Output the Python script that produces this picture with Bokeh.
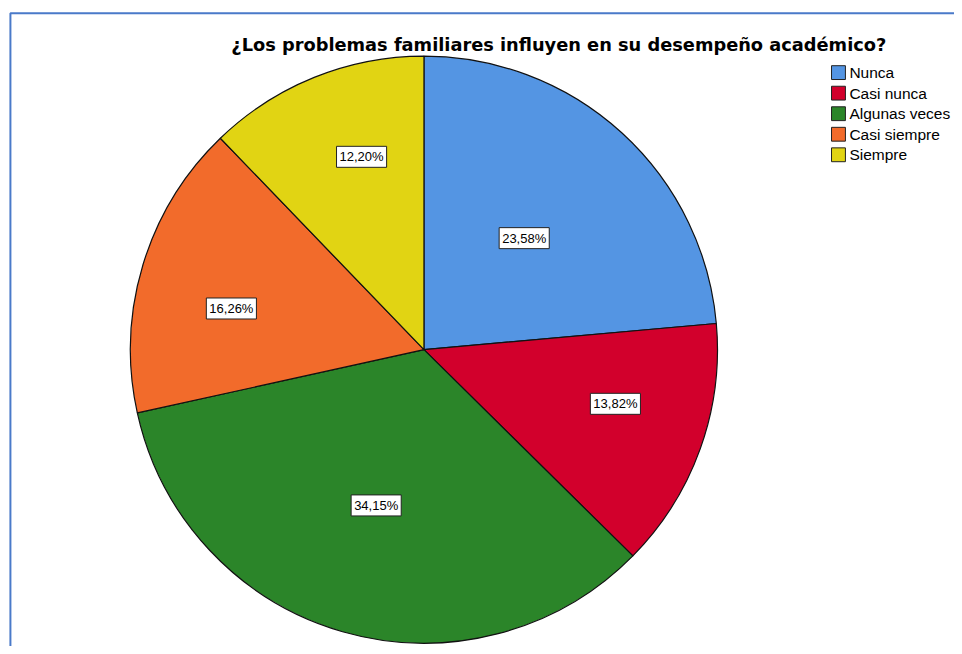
import math
from bokeh.plotting import figure
from bokeh.models import ColumnDataSource, Range1d
from bokeh.core.properties import value
from bokeh.embed import file_html
from bokeh.resources import INLINE

# ---- data ----
title_text = "¿Los problemas familiares influyen en su desempeño académico?"
categories = ["Nunca", "Casi nunca", "Algunas veces", "Casi siempre", "Siempre"]
percentages = [23.58, 13.82, 34.15, 16.26, 12.20]
colors = ["#5495E3", "#D2002C", "#2B8529", "#F26B2B", "#E1D413"]

# ---- layout constants (reference pixel space 962 x 654) ----
W, H = 954, 646
RW, RH = 962, 654
CX_S, CY_S, R = 427, 353.5, 296
label_r_frac = [0.512, 0.678, 0.557, 0.671, 0.693]
label_ang_adj = [-0.6, -3.9, 0.9, -4.7, 4.1]  # degrees

def dy(sy):
    return RH - sy

p = figure(width=W, height=H, output_backend="svg", toolbar_location=None,
           x_range=Range1d(0, RW), y_range=Range1d(0, RH),
           x_axis_location=None, y_axis_location=None, min_border=0,
           background_fill_color="white", border_fill_color="white")
p.grid.visible = False
p.outline_line_color = None

# frame (blue border, cut off at right/bottom)
p.line(x=[10, 10, 980], y=[dy(680), dy(13), dy(13)], line_color="#4A7AC9", line_width=2)

# pie
total = sum(percentages)
starts, ends, mids = [], [], []
acc = 0.0
for v in percentages:
    f0 = acc / total
    acc += v
    f1 = acc / total
    starts.append(math.pi / 2 - 2 * math.pi * f0)
    ends.append(math.pi / 2 - 2 * math.pi * f1)
    mids.append((f0 + f1) / 2 * 360.0)

src = ColumnDataSource(dict(cat=categories, pct=percentages, color=colors,
                            start=starts, end=ends))
p.wedge(x=CX_S, y=dy(CY_S), radius=R, start_angle="start", end_angle="end",
        direction="clock", fill_color="color", line_color="#111111",
        line_width=1.2, source=src)

# slice labels
lx, ly, ltxt = [], [], []
for i, v in enumerate(percentages):
    a = math.radians(mids[i] + label_ang_adj[i])
    r = R * label_r_frac[i]
    lx.append(CX_S + r * math.sin(a))
    ly.append(dy(CY_S - r * math.cos(a)))
    ltxt.append(f"{v:.2f}".replace(".", ",") + "%")
lsrc = ColumnDataSource(dict(x=lx, y=ly, t=ltxt))
p.text(x="x", y="y", text="t", source=lsrc, text_align="center",
       text_baseline="middle", text_font=value("Liberation Sans"),
       text_font_size="13px", text_color="black",
       background_fill_color="white", border_line_color="#222222",
       border_line_width=1, padding=3)

# title
p.text(x=[563], y=[dy(45)], text=[title_text], text_align="center",
       text_baseline="middle", text_font=value("DejaVu Sans"),
       text_font_style="bold", text_font_size="17.8px", text_color="black")

# legend
leg_y = [dy(73 + 20.8 * i) for i in range(len(categories))]
legsrc = ColumnDataSource(dict(x=[845] * len(categories), tx=[856] * len(categories),
                               y=leg_y, cat=categories, color=colors))
p.rect(x="x", y="y", width=14, height=14, fill_color="color",
       line_color="#222222", line_width=1, source=legsrc)
p.text(x="tx", y="y", text="cat", source=legsrc, text_align="left",
       text_baseline="middle", text_font=value("Liberation Sans"),
       text_font_size="15.5px", text_color="black")

open("out.html", "w").write(file_html(p, INLINE))
